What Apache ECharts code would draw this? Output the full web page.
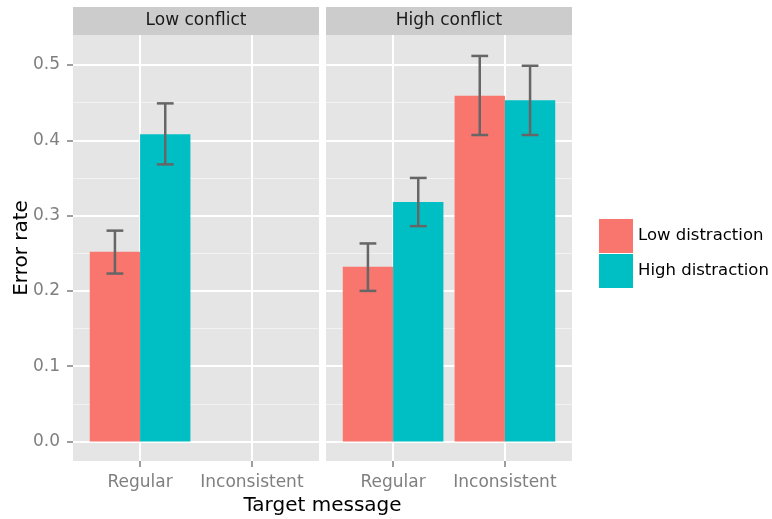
<!DOCTYPE html>
<html>
<head>
<meta charset="utf-8">
<script src="https://cdn.jsdelivr.net/npm/echarts@6/dist/echarts.min.js"></script>
<style>
  html, body { margin: 0; padding: 0; background: #fff; }
  #chart { width: 772px; height: 519px; }
</style>
</head>
<body>
<div id="chart"></div>
<script>
const panels = ['Low conflict', 'High conflict'];
const categories = ['Regular', 'Inconsistent'];
const seriesNames = ['Low distraction', 'High distraction'];

// mean error rate per category, one array per panel and distraction level
const lowConflictLowDist = [0.252, null];
const lowConflictHighDist = [0.408, null];
const highConflictLowDist = [0.232, 0.459];
const highConflictHighDist = [0.318, 0.453];

// error bar [low, high]
const lowConflictLowDistErr = [[0.223, 0.280], null];
const lowConflictHighDistErr = [[0.368, 0.449], null];
const highConflictLowDistErr = [[0.200, 0.263], [0.407, 0.512]];
const highConflictHighDistErr = [[0.286, 0.350], [0.407, 0.499]];

const yTicks = [0, 0.1, 0.2, 0.3, 0.4, 0.5];
const yMinorTicks = [0.05, 0.15, 0.25, 0.35, 0.45];
const xTicks = [1, 2];

const FONT = 'DejaVu Sans';
const colors = ['#F8766D', '#00BFC4'];

const chart = echarts.init(document.getElementById('chart'));

function makeBars(name, values, errs, panel, offset, color) {
  const data = [];
  values.forEach((v, i) => {
    if (v == null) return;
    data.push([i + 1 + offset, v, errs[i][0], errs[i][1]]);
  });
  return {
    type: 'custom',
    name: name,
    xAxisIndex: panel,
    yAxisIndex: panel,
    itemStyle: { color: color },
    encode: { x: 0, y: 1 },
    data: data,
    z: 3,
    renderItem: function (params, api) {
      const x = api.value(0), v = api.value(1), lo = api.value(2), hi = api.value(3);
      const p0 = api.coord([x - 0.225, v]);
      const p1 = api.coord([x + 0.225, 0]);
      const top = api.coord([x, hi]);
      const bot = api.coord([x, lo]);
      const wl = api.coord([x - 0.075, hi])[0];
      const wr = api.coord([x + 0.075, hi])[0];
      const errStyle = { stroke: '#666666', lineWidth: 2.5, fill: null };
      return {
        type: 'group',
        children: [
          { type: 'rect', shape: { x: p0[0], y: p0[1], width: p1[0] - p0[0], height: p1[1] - p0[1] },
            style: { fill: api.visual('color') } },
          { type: 'line', shape: { x1: top[0], y1: top[1], x2: bot[0], y2: bot[1] }, style: errStyle },
          { type: 'line', shape: { x1: wl, y1: top[1], x2: wr, y2: top[1] }, style: errStyle },
          { type: 'line', shape: { x1: wl, y1: bot[1], x2: wr, y2: bot[1] }, style: errStyle }
        ]
      };
    }
  };
}

const panelLeft = [73, 326];
const panelWidth = 246;

function xAxisFor(i) {
  return {
    type: 'value', gridIndex: i, min: 0.4, max: 2.6, position: 'bottom',
    axisLine: { show: false, onZero: false },
    axisTick: { show: true, customValues: xTicks, length: 6, lineStyle: { color: '#7f7f7f', width: 1.5 } },
    axisLabel: { show: true, customValues: xTicks, margin: 13, color: '#7f7f7f', fontSize: 17, fontFamily: FONT,
      formatter: v => categories[Math.round(v) - 1] },
    splitLine: { show: true, lineStyle: { color: '#ffffff', width: 2 } }
  };
}

function yAxisFor(i, minor) {
  return {
    type: 'value', gridIndex: i, min: -0.0259, max: 0.5398, position: 'left',
    axisLine: { show: false, onZero: false },
    axisTick: { show: !minor && i === 0, customValues: minor ? yMinorTicks : yTicks, length: 6,
      lineStyle: { color: '#7f7f7f', width: 1.5 } },
    axisLabel: { show: !minor && i === 0, customValues: yTicks, margin: 13, color: '#7f7f7f', fontSize: 17,
      fontFamily: FONT, formatter: v => v.toFixed(1) },
    splitLine: { show: true, lineStyle: { color: minor ? '#f2f2f2' : '#ffffff', width: minor ? 1 : 2 } }
  };
}

const option = {
  animation: false,
  backgroundColor: '#ffffff',
  grid: panelLeft.map(l => ({
    left: l, top: 35, width: panelWidth, height: 426,
    show: true, backgroundColor: '#e5e5e5', borderWidth: 0
  })),
  xAxis: [xAxisFor(0), xAxisFor(1)],
  yAxis: [yAxisFor(0, false), yAxisFor(1, false), yAxisFor(0, true), yAxisFor(1, true)],
  legend: {
    data: seriesNames,
    orient: 'vertical',
    left: 599, top: 219,
    padding: 0,
    itemWidth: 34, itemHeight: 34, itemGap: 1,
    icon: 'rect',
    selectedMode: false,
    textStyle: { fontSize: 16.5, fontFamily: FONT, color: '#000000' }
  },
  graphic: [
    ...panels.map((p, i) => ({
      type: 'rect', left: panelLeft[i], top: 7,
      shape: { width: panelWidth, height: 28 },
      style: { fill: '#cccccc' }
    })),
    ...panels.map((p, i) => ({
      type: 'text', x: panelLeft[i] + panelWidth / 2, y: 21,
      style: { text: p, fill: '#1a1a1a', font: '17px "' + FONT + '"',
        textAlign: 'center', textVerticalAlign: 'middle', align: 'center', verticalAlign: 'middle' }
    })),
    {
      type: 'text', x: 22, y: 248, rotation: Math.PI / 2,
      style: { text: 'Error rate', fill: '#000000', font: '20px "' + FONT + '"',
        textAlign: 'center', textVerticalAlign: 'middle', align: 'center', verticalAlign: 'middle' }
    },
    {
      type: 'text', x: 322.5, y: 506,
      style: { text: 'Target message', fill: '#000000', font: '20px "' + FONT + '"',
        textAlign: 'center', textVerticalAlign: 'middle', align: 'center', verticalAlign: 'middle' }
    }
  ],
  series: [
    makeBars(seriesNames[0], lowConflictLowDist, lowConflictLowDistErr, 0, -0.225, colors[0]),
    makeBars(seriesNames[1], lowConflictHighDist, lowConflictHighDistErr, 0, 0.225, colors[1]),
    makeBars(seriesNames[0], highConflictLowDist, highConflictLowDistErr, 1, -0.225, colors[0]),
    makeBars(seriesNames[1], highConflictHighDist, highConflictHighDistErr, 1, 0.225, colors[1])
  ]
};

chart.setOption(option);
</script>
</body>
</html>
